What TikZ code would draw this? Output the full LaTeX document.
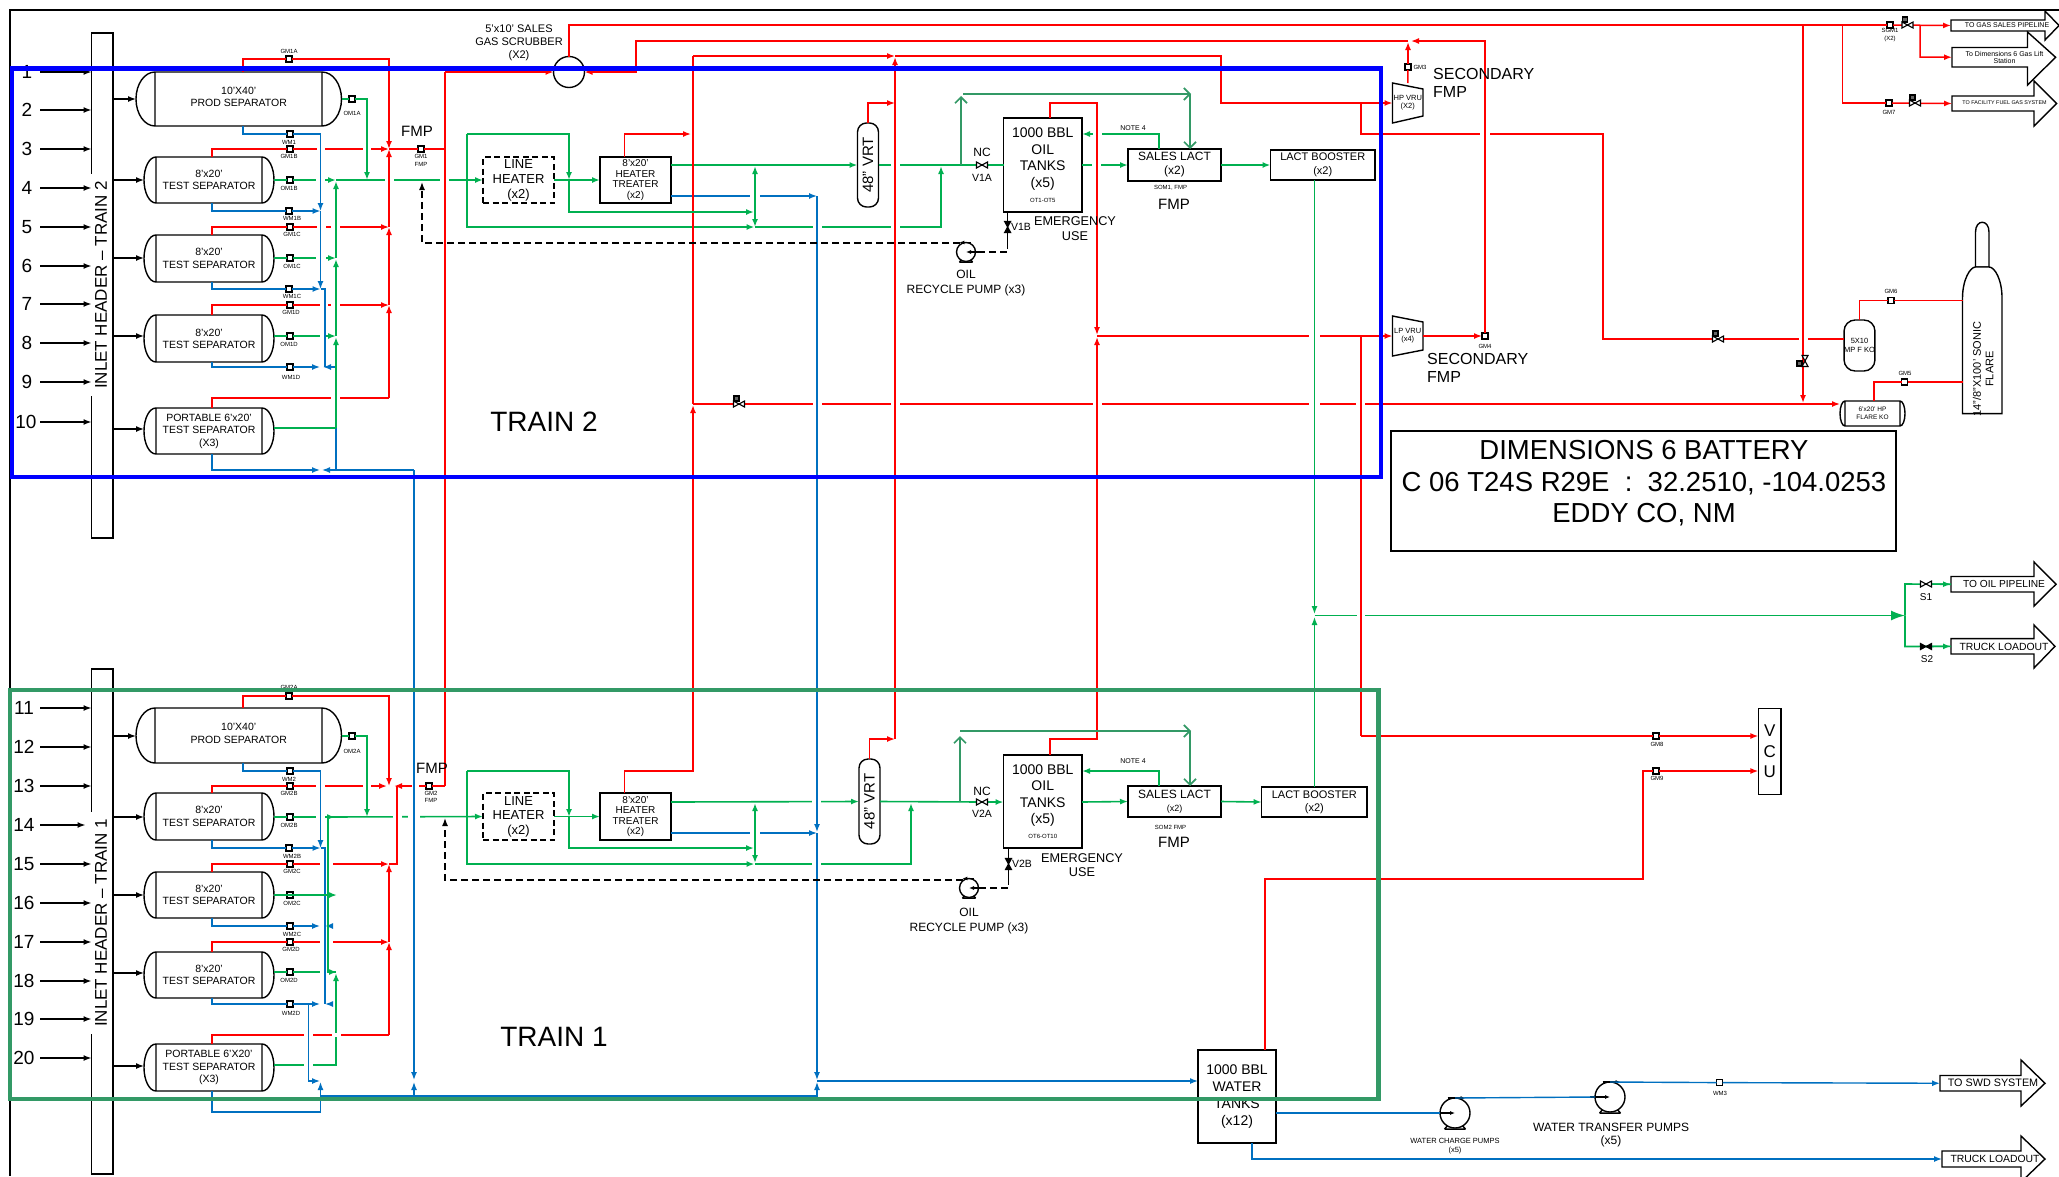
\documentclass[tikz,border=0pt]{standalone}
\usepackage{fontspec}
\setmainfont{Liberation Sans}
\usetikzlibrary{arrows.meta,calc}
\definecolor{gasred}{HTML}{FF0000}
\definecolor{oilgrn}{HTML}{00B050}
\definecolor{watblu}{HTML}{0070C0}
\definecolor{seagrn}{HTML}{339966}
\definecolor{fblue}{HTML}{0000FF}
\tikzset{
 gasl/.style={draw=gasred,line width=1.5pt},
 oill/.style={draw=oilgrn,line width=1.6pt},
 watl/.style={draw=watblu,line width=1.4pt},
 sgl/.style={draw=seagrn,line width=1.7pt},
 recl/.style={draw=black,line width=1.4pt,dash pattern=on 7pt off 4pt},
 blkl/.style={draw=black,line width=1.4pt},
 arw/.style={-{Latex[length=8pt,width=6pt]}},
 arwb/.style={-{Latex[length=14pt,width=10pt]}},
 darw/.style={{Latex[length=8pt,width=6pt]}-{Latex[length=8pt,width=6pt]}},
 obarb/.style={-{Straight Barb[length=6pt,width=12pt]}},
 eqp/.style={draw=black,line width=1.4pt,fill=white},
 eqptxt/.style={inner sep=0pt,outer sep=0pt,align=center},
 lbl/.style={inner sep=0pt,align=center},
 dashbox/.style={dash pattern=on 6pt off 3.5pt},
 meter/.style={draw=black,line width=1.2pt,fill=white,minimum width=6pt,minimum height=6pt,inner sep=0pt,outer sep=0pt},
}
\newcommand\F[2]{\fontsize{#1pt}{#2pt}\selectfont}
\newcounter{tn}
\newcommand\lb[5][]{\stepcounter{tn}\node[lbl,font={#4},#1] (t\thetn) at (#2,#3) {#5};}
\newcommand\mt[3]{\node[meter] (#1) at (#2,#3) {};}
\newcommand\gapx[3]{\draw[white,line width=3.6pt] (#1,#3) -- (#2,#3);}
\newcommand\vessel[9]{%
 \pgfmathsetmacro\vcx{(#2+#4)/2}\pgfmathsetmacro\vcy{(#3+#5)/2}%
 \pgfmathsetmacro\vw{#4-#2}\pgfmathsetmacro\vh{#5-#3}%
 \pgfmathsetmacro\vrl{#6-#2}\pgfmathsetmacro\vrr{#4-#7}\pgfmathsetmacro\vry{(#5-#3)/2}%
 \draw[eqp] (#6,#3) arc[start angle=90,end angle=270,x radius=\vrl pt,y radius=\vry pt] -- (#7,#5) arc[start angle=-90,end angle=90,x radius=\vrr pt,y radius=\vry pt] -- cycle (#6,#3)--(#6,#5) (#7,#3)--(#7,#5);
 \node[eqptxt,minimum width=\vw pt,minimum height=\vh pt,font={#8}] (#1) at (\vcx,\vcy) {#9};}
\newcommand\bx[8][]{%
 \pgfmathsetmacro\vcx{(#3+#5)/2}\pgfmathsetmacro\vcy{(#4+#6)/2}%
 \pgfmathsetmacro\vw{#5-#3}\pgfmathsetmacro\vh{#6-#4}%
 \node[eqp,eqptxt,minimum width=\vw pt,minimum height=\vh pt,font={#7},#1] (#2) at (\vcx,\vcy) {#8};}
\newcommand\barw[8]{%
 \pgfmathsetmacro\vcy{(#5+#6)/2}%
 \draw[eqp] (#2,#5) -- (#3,#5) -- (#3,#7) -- (#4,\vcy) -- (#3,#8) -- (#3,#6) -- (#2,#6) -- cycle;
 \coordinate (#1) at (#2,\vcy);}
\newcommand\bow[4]{\begin{scope}[shift={(#1,#2)},rotate=#3]
 \draw[draw=black,line width=1.1pt,fill=#4] (-5.5,-3) -- (5.5,3) -- (5.5,-3) -- (-5.5,3) -- cycle;\end{scope}}
\newcommand\gv[3]{\begin{scope}[shift={(#1,#2)},rotate=#3]
 \draw[draw=black,line width=1.1pt,fill=white] (-5.5,-3) -- (5.5,3) -- (5.5,-3) -- (-5.5,3) -- cycle;
 \draw[draw=black,line width=1.1pt,fill=black!60] (-5,-8) rectangle (0,-3);\end{scope}}
% name x y r dir(+1 inlet right, outlet left ; -1 inlet left, outlet right)
\newcommand\pump[5]{%
 \node[draw=black,line width=1.4pt,fill=white,circle,minimum size=#4*2pt,inner sep=0pt,outer sep=0pt] (#1) at (#2,#3) {};
 \pgfmathsetmacro\pa{#4*0.7}\pgfmathsetmacro\pb{#4*1.07}\pgfmathsetmacro\pc{#4*0.5}\pgfmathsetmacro\pd{#4*0.85}\pgfmathsetmacro\pe{#5*#4*1.35}\pgfmathsetmacro\pf{#5*#4*0.5}\pgfmathsetmacro\pg{0-#5*#4*1.2}%
 \draw[blkl] ($(#1.center)+(-\pa,\pb)$) -- ($(#1.center)+(\pa,\pb)$) ($(#1.center)+(-\pc,\pd)$) -- ($(#1.center)+(-\pa,\pb)$) ($(#1.center)+(\pc,\pd)$) -- ($(#1.center)+(\pa,\pb)$);
 \draw[blkl,-{Latex[length=5pt,width=4pt]}] ($(#1.center)+(\pe,0)$) -- (#1.center);
 \draw[blkl,-{Latex[length=5pt,width=4pt]}] ($(#1.center)+(\pf,-#4)$) -- ++(\pg,0);}
\begin{document}
\begin{tikzpicture}[x=1pt,y=-1pt]
\useasboundingbox (0,0) rectangle (2059,1176);
\fill[white] (0,0) rectangle (2059,1176);
% outer frame
\coordinate (frA) at (2059,10); \coordinate (frB) at (10,10); \coordinate (frC) at (10,1176);
\draw[blkl,line width=1.6pt] (frA) -- (frB) -- (frC);
% ---- inlet headers
\bx{hd2}{91.5}{33}{113}{538}{\F{6}{7}}{}
\bx{hd1}{91.5}{669}{113}{1174}{\F{6}{7}}{}
\node[lbl,rotate=90,fill=white,font=\F{17}{19},minimum height=21pt,minimum width=222pt] (hd2t) at (101,285) {INLET HEADER – TRAIN 2};
\node[lbl,rotate=90,fill=white,font=\F{17}{19},minimum height=21pt,minimum width=222pt] (hd1t) at (101,923) {INLET HEADER – TRAIN 1};
% ---- vessels T2
\vessel{p2}{136}{72}{341.5}{126}{155}{322}{\F{10.5}{12}}{10'X40'\\PROD SEPARATOR\\[-7pt]\mbox{}}
\vessel{s2b}{144}{157}{274}{203}{156}{262}{\F{10.5}{12.5}}{8'x20'\\TEST SEPARATOR}
\vessel{s2c}{144}{235}{274}{282}{156}{262}{\F{10.5}{12.5}}{8'x20'\\TEST SEPARATOR}
\vessel{s2d}{144}{315}{274}{362}{156}{262}{\F{10.5}{12}}{8'x20'\\TEST SEPARATOR}
\vessel{s2p}{144}{408}{274}{454}{156}{262}{\F{10.5}{12.5}}{PORTABLE 6'x20'\\TEST SEPARATOR\\(X3)}
% ---- vessels T1
\vessel{p1}{136}{708}{341.5}{763}{155}{322}{\F{10.5}{13}}{10'X40'\\PROD SEPARATOR\\[-9pt]\mbox{}}
\vessel{s1b}{144}{793}{274}{840}{156}{262}{\F{10.5}{12.5}}{8'x20'\\TEST SEPARATOR}
\vessel{s1c}{144}{872}{274}{918}{156}{262}{\F{10.5}{12.5}}{8'x20'\\TEST SEPARATOR}
\vessel{s1d}{144}{952}{274}{998}{156}{262}{\F{10.5}{12}}{8'x20'\\TEST SEPARATOR}
\vessel{s1p}{144}{1044}{274}{1091}{156}{262}{\F{10.5}{12.8}}{PORTABLE 6'X20'\\TEST SEPARATOR\\(X3)}
% flare KO
\vessel{fko}{1840}{401}{1905}{426}{1845}{1900}{\F{6.5}{7.5}}{6'x20' HP\\FLARE KO}
% equipment boxes
\bx[dashbox]{lh2}{483}{157}{554}{203}{\F{13}{15}}{LINE\\HEATER\\(x2)}
\bx[dashbox]{lh1}{483}{793}{554}{840}{\F{13}{14.5}}{LINE\\HEATER\\(x2)}
\bx{tr2}{600}{157}{671}{203}{\F{10}{10.6}}{8'x20'\\HEATER\\TREATER\\(x2)}
\bx{tr1}{600}{793}{671}{840}{\F{10}{10.6}}{8'x20'\\HEATER\\TREATER\\(x2)}
\bx{ot2}{1003.5}{118}{1082}{212}{\F{14}{16.6}}{1000 BBL\\OIL\\TANKS\\(x5)\\[-2pt]{\F{6}{8}OT1-OT5}}
\bx{ot1}{1003.5}{755}{1082}{848}{\F{14}{16.6}}{1000 BBL\\OIL\\TANKS\\(x5)\\[-2pt]{\F{6}{8}OT6-OT10}}
\bx{sl2}{1128}{149}{1221}{181}{\F{12}{14}}{SALES LACT\\(x2)}
\bx{sl1}{1128}{786}{1221}{817}{\F{12}{12.5}}{SALES LACT\\{\F{9}{10}(x2)}}
\bx{lb2}{1270.5}{150}{1375}{180}{\F{11}{13.5}}{LACT BOOSTER\\(x2)}
\bx{lb1}{1261.6}{787}{1367}{817}{\F{11}{13}}{LACT BOOSTER\\(x2)}
\bx{wt}{1198}{1050}{1276}{1143}{\F{14}{16.8}}{1000 BBL\\WATER\\TANKS\\(x12)}
\bx{vcu}{1758.4}{708.5}{1781}{794.6}{\F{17}{20.5}}{V\\C\\U}
% VRTs
\node[eqp,eqptxt,rotate=90,rounded corners=9pt,minimum width=84pt,minimum height=21pt,font=\F{15}{16}] (vr2) at (868,165) {48" VRT};
\node[eqp,eqptxt,rotate=90,rounded corners=9pt,minimum width=85pt,minimum height=21pt,font=\F{15}{16}] (vr1) at (869.5,801.5) {48" VRT};
% scrubber
\node[draw=black,line width=1.4pt,fill=white,circle,minimum size=31pt,inner sep=0pt,outer sep=0pt] (scr) at (569,72) {};
% VRUs
\draw[eqp] (1392.5,83) -- (1423,89) -- (1423,116) -- (1392.5,123) -- cycle;
\draw[eqp] (1392.5,316) -- (1423,322) -- (1423,350) -- (1392.5,356) -- cycle;
\node[eqptxt,minimum width=30.5pt,minimum height=40pt,font=\F{7.5}{8}] (hpv) at (1407.75,103) {HP VRU\\(X2)};
\node[eqptxt,minimum width=30.5pt,minimum height=40pt,font=\F{7.5}{8}] (lpv) at (1407.75,336) {LP VRU\\(x4)};
% MP KO
\node[eqp,eqptxt,rounded corners=11pt,minimum width=29pt,minimum height=51pt,font=\F{7.5}{8.6}] (mko) at (1859.5,345.5) {5X10\\MP F KO};
% flare
\draw[eqp] (1975.5,267) -- (1975.5,232) .. controls (1975.5,219) and (1989,219) .. (1989,232) -- (1989,267) -- cycle;
\draw[eqp] (1962.5,413.6) -- (1962.5,298) .. controls (1962.5,280) and (1970,267) .. (1975.5,267) -- (1989,267) .. controls (1995,267) and (2002,280) .. (2002,298) -- (2002,413.6) -- cycle;
\node[eqptxt,minimum width=39.5pt,minimum height=115pt] (flr) at (1982.25,356) {};
\node[lbl,rotate=90,font=\F{11}{12.5}] (flrt) at (1983,369) {14"/8"X100' SONIC\\FLARE};
% block arrows
\barw{tg}{1951}{2045}{2059}{20}{31}{11}{40}
\barw{tl}{1952}{2027.5}{2055.6}{47.5}{67}{32}{85}
\barw{tf}{1952}{2034}{2056.5}{96}{111}{81}{126}
\barw{to}{1951}{2034}{2056}{576.5}{592}{562}{606}
\barw{tt}{1951}{2034}{2055}{638.6}{654}{625}{668}
\barw{ts}{1940}{2021}{2045}{1075.5}{1091}{1060}{1106}
\barw{tr}{1942}{2021}{2045}{1151}{1167}{1136}{1182}
\lb{2007}{25}{\F{7}{8}}{TO GAS SALES PIPELINE}
\lb{2004.5}{57.5}{\F{7}{7.8}}{To Dimensions 6 Gas Lift\\Station}
\lb{2004.5}{103}{\F{5.4}{6}}{TO FACILITY FUEL GAS SYSTEM}
\lb{2004}{584}{\F{10.2}{12}}{TO OIL PIPELINE}
\lb{2004}{646.5}{\F{10.4}{12}}{TRUCK LOADOUT}
\lb{1993}{1083}{\F{10.8}{12}}{TO SWD SYSTEM}
\lb{1995}{1159}{\F{10.4}{12}}{TRUCK LOADOUT}
% title box
\bx{title}{1391}{431}{1896}{551}{\F{27.5}{31.5}}{}
\lb{1644}{483.5}{\F{27.5}{31.5}}{DIMENSIONS 6 BATTERY\\C 06 T24S R29E\ \ :\ \ 32.2510, -104.0253\\EDDY CO, NM}
% ---- meters
\mt{mg1a}{289}{59}\mt{mg1b}{290}{149}\mt{mg1c}{290}{227}\mt{mg1d}{290}{305}\mt{mg1f}{421}{149}
\mt{mg2a}{289}{696}\mt{mg2b}{290}{786}\mt{mg2c}{290}{864}\mt{mg2d}{290}{942}\mt{mg2f}{429}{786}
\mt{mo1a}{352}{99}\mt{mo1b}{290}{180}\mt{mo1c}{290}{258}\mt{mo1d}{290}{336}
\mt{mo2a}{352}{736}\mt{mo2b}{290}{817}\mt{mo2c}{290}{895}\mt{mo2d}{290}{972}
\mt{mw1}{290}{134}\mt{mw1b}{289}{211}\mt{mw1c}{289}{289}\mt{mw1d}{290}{367}
\mt{mw2}{290}{771}\mt{mw2b}{289}{848}\mt{mw2c}{290}{926}\mt{mw2d}{290}{1004}
\mt{msg}{1890}{25}\mt{mg3}{1408}{67}\mt{mg4}{1485}{336}\mt{mg5}{1904.5}{382}\mt{mg6}{1891}{300.7}\mt{mg7}{1889}{103}
\mt{mg8}{1656}{736}\mt{mg9}{1656}{771}\mt{mw3}{1719.5}{1082.6}
% pumps
\pump{pu2}{966}{252}{9.5}{1}
\pump{pu1}{969}{888}{9.5}{1}
\pump{pw1}{1455}{1113}{15}{-1}
\pump{pw2}{1610}{1097}{15}{-1}
% junction coordinates
\coordinate (j1) at (389,149);\coordinate (j2) at (389,227);\coordinate (j3) at (389,305);\coordinate (j4) at (389,398);
\coordinate (k1) at (389,786);\coordinate (k2) at (389,864);\coordinate (k3) at (389,942);\coordinate (k4) at (389,1035);
\coordinate (g1) at (336,180);\coordinate (g2) at (336,258);\coordinate (g3) at (336,336);\coordinate (g4) at (336,428);
\coordinate (n1) at (328,817);\coordinate (n2) at (328,895);\coordinate (n3) at (336,972);\coordinate (n4) at (336,1065);
\coordinate (ca) at (445,72);\coordinate (cb) at (445,149);\coordinate (cc) at (445,786);
\coordinate (da) at (693,56);\coordinate (db) at (693,404);\coordinate (ea) at (895,56);
\coordinate (fa) at (1097,336);\coordinate (ha) at (1361,103);\coordinate (hb) at (1361,336);
\coordinate (ga) at (1314.5,615.5);\coordinate (gb) at (1905,615.5);
\coordinate (ja) at (1408,41);\coordinate (jb) at (1803,25);\coordinate (jc) at (1842.5,25);\coordinate (jd) at (1920,25);
\coordinate (la) at (467,180);\coordinate (lb) at (569,180);\coordinate (lc) at (754.5,227);\coordinate (ld) at (754.5,165);
\coordinate (ma) at (467,817);\coordinate (mb) at (569,817);\coordinate (mc) at (754.5,864);\coordinate (md) at (754.5,802);
\coordinate (wa) at (320.5,289);\coordinate (wb) at (320.5,211);\coordinate (wc) at (336,367);\coordinate (wd) at (414,470);
\coordinate (we) at (817,196);\coordinate (wf) at (817,833);\coordinate (wg) at (817,1081);\coordinate (wh) at (320.5,848);
\coordinate (wi) at (325,1004);\coordinate (wj) at (320.5,1096);\coordinate (wk) at (414,1096);\coordinate (wl) at (817,1096);
% ===== layer A : lines that jump over others
\draw[gasl,arw] (mg1b) -- (j1);
\draw[gasl,arw] (mg1c) -- (j2);
\draw[gasl,arw] (mg1d) -- (j3);
\draw[gasl] (s2b.north -| 212,0) |- (mg1b);
\draw[gasl] (s2c.north -| 212,0) |- (mg1c);
\draw[gasl] (s2d.north -| 212,0) |- (mg1d);
\draw[gasl] (s2p.north -| 212,0) |- (j4);
\draw[gasl,arw] (mg2b) -- ([xshift=-2pt]k1);
\draw[gasl,arw] (mg2f) -- ([xshift=5pt]k1);
\draw[gasl,arw] (mg2c) -- (k2);
\draw[gasl,arw] (mg2d) -- (k3);
\draw[gasl] (s1b.north -| 212,0) |- (mg2b);
\draw[gasl] (s1c.north -| 212,0) |- (mg2c);
\draw[gasl] (s1d.north -| 212,0) |- (mg2d);
\draw[gasl] (s1p.north -| 212,0) |- (k4);
\draw[oill,arw] (g1) -- (lh2.west);
\draw[oill,arw] (n1) -- (lh1.west);
\draw[oill] (s2b.east |- mo1b) -- (mo1b);
\draw[oill] (s2c.east |- mo1c) -- (mo1c);
\draw[oill] (s2d.east |- mo1d) -- (mo1d);
\draw[oill] (s1b.east |- mo2b) -- (mo2b);
\draw[oill] (s1c.east |- mo2c) -- (mo2c);
\draw[oill] (s1d.east |- mo2d) -- (mo2d);
\draw[oill,arw] (mo1b) -- (g1);
\draw[oill,arw] (mo1c) -- (g2);
\draw[oill,arw] (mo1d) -- (g3);
\draw[oill,arw] (mo2b) -- (335,817);
\draw[oill,arw] (mo2d) -- (337,972);
\draw[oill,arw] (s1p.east |- n4) -- (n4) -- (336,973);
\draw[oill,arw] (467,134) -- (467,227) -- (lc);
\draw[oill,arw] (lc) -- (941,227) -- (941,166);
\draw[oill,arw] (467,771) -- (467,864) -- (mc);
\draw[oill,arw] (mc) -- (911,864) -- (911,803);
\draw[oill,arw] (tr2.east |- ld) -- (vr2.north);
\draw[oill] (vr2.south) -- (ot2.west |- vr2.south);
\draw[oill,arw] (tr1.east |- md) -- (vr1.north);
\draw[watl,arw] (tr2.east |- we) -- (we);
\draw[watl,arw] (tr1.east |- wf) -- (wf);
\draw[oill,arw] (ot2.east |- ld) -- (sl2.west);
\draw[oill,arw] (sl2.north -| 1159,0) |- (ot2.east |- 0,134);
\draw[gasl,arw] (db) -- (fko.west |- db);
\draw[gasl,arw] (fa) -- (hb) -- (lpv.west);
\draw[gasl] (ha) -- (1361,134) -- (1603,134) -- (1603,339) -- (mko.west |- 0,339);
\draw[oill,arwb] (ga) -- (gb);
% jump gaps
\gapx{317}{325}{149}\gapx{363}{371}{149}
\gapx{317}{326}{227}\gapx{331}{340}{227}
\gapx{320}{328}{305}\gapx{331}{340}{305}
\gapx{331}{340}{398}
\gapx{385}{394}{180}\gapx{440}{449}{180}
\gapx{316}{325}{180}\gapx{316}{326}{258}\gapx{320}{326}{336}
\gapx{813}{822}{227}\gapx{891}{900}{227}
\gapx{891}{900}{165}\gapx{750}{760}{196}\gapx{1092}{1101}{165}\gapx{1093}{1102}{134}
\gapx{813}{822}{404}\gapx{891}{900}{404}\gapx{1093}{1102}{404}\gapx{1309}{1320}{404}\gapx{1356}{1365}{404}
\gapx{1309}{1320}{336}\gapx{1480}{1490}{134}\gapx{1799}{1808}{339}\gapx{1357}{1365}{615.5}
\gapx{316}{325}{786}\gapx{363}{371}{786}\gapx{412}{419}{786}
\gapx{320}{333}{864}\gapx{320}{333}{942}
\gapx{304}{313}{1035}\gapx{332}{341}{1035}
\gapx{393}{402}{817}\gapx{408}{420}{817}\gapx{316}{325}{817}
\gapx{304}{313}{1065}\gapx{320}{328}{972}
\gapx{812}{821}{864}\gapx{812}{821}{802}\gapx{750}{760}{833}
% ===== layer B : red
\draw[gasl] (p2.north -| 243,0) |- (mg1a);
\draw[gasl,arw] (mg1a) -| (j1);
\draw[gasl,arw] (j4) -- (j3);\draw[gasl,arw] (j3) -- (j2);\draw[gasl,arw] (j2) -- (j1);
\draw[gasl] (j1) -- (mg1f);\draw[gasl] (mg1f) -- (cb);
\draw[gasl] (ca) -- (cc);
\draw[gasl] (cc) -- (mg2f);
\draw[gasl,arw] (ca) -- (scr.west);
\draw[gasl] (scr.north) |- (msg);
\draw[gasl,arw] (msg) -- (tg);
\draw[gasl,arw] (ja) -- (636,41) -- (636,72) -- (scr.east);
\draw[gasl,arw] (mg4) -- (1485,41) -- (1411,41);
\draw[gasl] (hpv.north) -- (mg3);
\draw[gasl,arw] (mg3) -- (1408,42);
\draw[gasl,arw] (lpv.east) -- (mg4);
\draw[gasl,arw] (da) -- (ea);
\draw[gasl] (db) -- (da);
\draw[gasl,arw] (tr1.north -| 624.5,0) -- (624.5,771) -- (693,771) -- (693,405);
\draw[gasl,arw] (tr2.north -| 624.5,0) -- (624.5,134) -- (691,134);
\draw[gasl,arw] (vr1.east) -- (869.5,739) -- (895,739);
\draw[gasl,arw] (895,739) -- (895,57);
\draw[gasl,arw] (vr2.east) -- (868,103) -- (895,103);
\draw[gasl,arw] (ea) -- (1221,56) -- (1221,103) -- (hpv.west);
\draw[gasl,arw] (ot2.north -| 1050,0) -- (1050,103) -- (1097,103) -- (1097,335);
\draw[gasl,arw] (ot1.north -| 1050,0) -- (1050,739) -- (1097,739) -- (1097,337);
\draw[gasl] (hb) -- (1361,736);
\draw[gasl] (1361,736) -- (mg8);
\draw[gasl,arw] (mg8) -- (vcu.west |- mg8);
\draw[gasl,line width=1.2pt] (wt.north -| 1265,0) -- (1265,879) -- (1643,879) -- (1643,771) -- (mg9);
\draw[gasl,arw] (mg9) -- (vcu.west |- mg9);
\draw[gasl,arw] (jd) -- (1920,57) -- (tl);
\draw[gasl] (jc) |- (mg7);
\draw[gasl,arw] (mg7) -- (tf);
\draw[gasl,arw] (jb) -- (1803,403);
\draw[gasl] (mko.north) -- (mko.north |- mg6) -- (mg6);
\draw[gasl] (mg6) -- (flr.west |- mg6);
\draw[gasl] (fko.north -| 1874,0) |- (mg5);
\draw[gasl] (mg5) -- (flr.west |- mg5);
\draw[gasl] (p1.north -| 243,0) |- (mg2a);
\draw[gasl,arw] (mg2a) -| (k1);
\draw[gasl] (k2) -- (397,864) -- (397,786);
\draw[gasl,arw] (k4) -- (k3);\draw[gasl,arw] (k3) -- (k2);
% blue
\draw[watl] (p2.south -| 243,0) |- (mw1);
\draw[watl,arw] (mw1) -| (wb);
\draw[watl] (s2b.south -| 212,0) |- (mw1b);
\draw[watl,arw] (mw1b) -- (wb);
\draw[watl,arw] (wb) -- (wa);
\draw[watl] (s2c.south -| 212,0) |- (mw1c);
\draw[watl,arw] (mw1c) -- (wa);
\draw[watl] (wa) -- (325,289) -- (325,367);
\draw[watl] (s2d.south -| 212,0) |- (mw1d);
\draw[watl,arw] (mw1d) -- (320,367);
\draw[watl,arw] (wc) -- (323,367);
\draw[watl] (wc) -- (336,470) -- (wd);
\draw[watl,arw] (s2p.south -| 212,0) |- (320,470);
\draw[watl,arw] (wd) -- (322,470);
\draw[watl,arw] (wd) -- (414,1080);
\draw[watl,arw] (wk) -- (414,1082);
\draw[watl,arw] (wj) -- (wl) -- (817,1082);
\draw[watl,arw] (we) -- (817,832);
\draw[watl,arw] (wf) -- (817,1080);
\draw[watl,arw] (wg) -- (wt.west |- wg);
\draw[watl,arw] (s1p.south -| 212,0) -- (212,1112) -- (320.5,1112) -- (320.5,1082);
\draw[watl] (p1.south -| 243,0) |- (mw2);
\draw[watl,arw] (mw2) -| (wh);
\draw[watl] (s1b.south -| 212,0) |- (mw2b);
\draw[watl,arw] (mw2b) -- (wh);
\draw[watl] (wh) -- (325,848) -- (wi);
\draw[watl] (s1c.south -| 212,0) |- (mw2c);
\draw[watl,arw] (mw2c) -- (320,926);
\draw[watl,arw] (331,926) -- (325,926);
\draw[watl] (s1d.south -| 212,0) |- (mw2d);
\draw[watl,arw] (mw2d) -- (320,1004);
\draw[watl,arw] (331,1004) -- (325,1004);
\draw[watl,arw] (308.5,1004) -- (308.5,1081) -- (320,1081);
\draw[watl] (wt.east |- pw1) -- (pw1.west);
\draw[watl] (pw1.north) -- (pw2.west);
\draw[watl] (pw2.north) -- (mw3);
\draw[watl,arw] (mw3) -- (ts);
\draw[watl,arw] (wt.south -| 1252,0) |- (tr);
% green
\draw[oill,arw] (g4) -- (336,337);\draw[oill,arw] (g3) -- (336,259);\draw[oill,arw] (g2) -- (336,181);
\draw[oill] (s2p.east |- g4) -- (g4);
\draw[oill] (p2.east |- mo1a) -- (mo1a);
\draw[oill,arw] (mo1a) -| (367,180);
\draw[oill,arw] (467,134) -| (lb);
\draw[oill,arw] (lb) -- (569,212) -- (754,212);
\draw[oill,arw] (lh2.east) -- (tr2.west);
\draw[oill,darw] (755,166) -- (755,227);
\draw[sgl,obarb] (961,165) -- (961,96);
\draw[sgl,obarb] (963,94) -- (1191,94);
\draw[sgl,obarb] (1190,94) -- (sl2.north -| 1190,0);
\draw[oill,arw] (sl2.east) -- (lb2.west);
\draw[oill,line width=1.3pt,arw] (lb2.south -| ga) -- (1314.5,614);
\draw[oill,line width=1.3pt,arw] (lb1.north -| ga) -- (1314.5,617);
\draw[oill] (gb) -- (1905,584) -- (to);
\draw[oill,arw] (1926,584) -- (to);
\draw[oill] (gb) -- (1905,646.5) -- (tt);
\draw[oill,arw] (1926,646.5) -- (tt);
\draw[oill] (n1) -- (328,972) -- (n3);
\draw[oill,arw] (s1c.east |- n2) -- (337,895);
\draw[oill] (p1.east |- mo2a) -- (mo2a);
\draw[oill,arw] (mo2a) -| (367,817);
\draw[oill,arw] (467,771) -| (mb);
\draw[oill,arw] (mb) -- (569,848) -- (754,848);
\draw[oill,arw] (lh1.east) -- (tr1.west);
\draw[oill,darw] (755,803) -- (755,863);
\draw[oill] (vr1.south) -- (982,802);
\draw[oill,arw] (982,802) -- (ot1.west |- 0,802);
\draw[sgl,line width=2.4pt] (960,802) -- (960,742);
\draw[sgl,obarb] (960,745) -- (960,736);
\draw[sgl,obarb] (960,731) -- (1191,731);
\draw[sgl,obarb] (1190,731) -- (sl1.north -| 1190,0);
\draw[oill,arw] (ot1.east |- 0,802) -- (sl1.west);
\draw[oill,arw] (sl1.north -| 1159,0) |- (ot1.east |- 0,771);
\draw[oill,arw] (sl1.east) -- (lb1.west);
% black recycle
\draw[blkl] (ot2.south -| 1007.6,0) -- (1007.6,242);
\draw[recl] (1007.6,242) -- (1007.6,252) -- (pu2.east);
\draw[recl,arw] (960,243) -- (422,243) -- (422,182);
\draw[blkl] (ot1.south -| 1008.5,0) -- (1008.5,878);
\draw[recl] (1008.5,878) -- (1008.5,888) -- (pu1.east);
\draw[recl,arw] (963,880) -- (445,880) -- (445,818);
% inlet arrows
\foreach \yy [count=\i] in {72,110,149,188,227,266,304,343,382,422}{\coordinate (ia\i) at (40,\yy);\draw[blkl,arw] (ia\i) -- (hd2.west |- ia\i);}
\foreach \yy [count=\i] in {708,747,786,825,864,903,942,981,1019,1058}{\coordinate (ib\i) at (40,\yy);\ifnum\i=4\relax\draw[blkl,arw,shorten >=6pt] (ib\i) -- (hd1.west |- ib\i);\else\draw[blkl,arw] (ib\i) -- (hd1.west |- ib\i);\fi}
\draw[blkl,arw] (hd2.east |- 0,99) -- (p2.west |- 0,99);
\draw[blkl,arw] (hd2.east |- 0,180) -- (s2b.west |- 0,180);
\draw[blkl,arw] (hd2.east |- 0,258) -- (s2c.west |- 0,258);
\draw[blkl,arw] (hd2.east |- 0,336) -- (s2d.west |- 0,336);
\draw[blkl,arw] (hd2.east |- 0,429) -- (s2p.west |- 0,429);
\draw[blkl,arw] (hd1.east |- 0,736) -- (p1.west |- 0,736);
\draw[blkl,arw] (hd1.east |- 0,817) -- (s1b.west |- 0,817);
\draw[blkl,arw] (hd1.east |- 0,895) -- (s1c.west |- 0,895);
\draw[blkl,arw] (hd1.east |- 0,973) -- (s1d.west |- 0,973);
\draw[blkl,arw] (hd1.east |- 0,1066) -- (s1p.west |- 0,1066);
% valves
\gv{1907.5}{25}{0}\gv{1915}{103}{0}\gv{739}{404}{0}\gv{1718}{339}{0}\gv{1805}{361}{90}
\bow{982}{165}{0}{white}\bow{982}{802}{0}{white}\bow{1926}{584}{0}{white}\bow{1926}{646.5}{0}{black}
\bow{1007.6}{227}{90}{black}\bow{1008.5}{864}{90}{black}
% ---- numbers
\foreach \nn/\yy in {1/72,2/110,3/149,4/188,5/227,6/266,7/304,8/343,9/382}{\stepcounter{tn}\node[lbl,font=\F{19}{21}] (t\thetn) at (27,\yy) {\nn};}
\lb{26}{422}{\F{19}{21}}{10}
\foreach \nn/\yy in {11/708,12/747,13/786,14/825,15/864,16/903,17/942,18/981,19/1019,20/1058}{\stepcounter{tn}\node[lbl,font=\F{19}{21}] (t\thetn) at (24,\yy) {\nn};}
% ---- labels small
\lb{289}{51}{\F{6}{7}}{GM1A}\lb{289}{142}{\F{6}{7}}{WM1}\lb{289}{156}{\F{6}{7}}{GM1B}
\lb{421}{160}{\F{6}{8}}{GM1\\FMP}
\lb{352}{113}{\F{6}{7}}{OM1A}\lb{289}{188}{\F{6}{7}}{OM1B}\lb{292}{218}{\F{6}{7}}{WM1B}\lb{292}{234}{\F{6}{7}}{GM1C}
\lb{292}{266}{\F{6}{7}}{OM1C}\lb{292}{296}{\F{6}{7}}{WM1C}\lb{291}{312}{\F{6}{7}}{GM1D}\lb{289}{344}{\F{6}{7}}{OM1D}\lb{291}{377}{\F{6}{7}}{WM1D}
\lb{289}{687}{\F{6}{7}}{GM2A}\lb{289}{779}{\F{6}{7}}{WM2}\lb{289}{793}{\F{6}{7}}{GM2B}
\lb{431}{797}{\F{6}{7}}{GM2\\FMP}
\lb{352}{751}{\F{6}{7}}{OM2A}\lb{289}{825}{\F{6}{7}}{OM2B}\lb{292}{856}{\F{6}{7}}{WM2B}\lb{292}{871}{\F{6}{7}}{GM2C}
\lb{292}{903}{\F{6}{7}}{OM2C}\lb{292}{934}{\F{6}{7}}{WM2C}\lb{291}{949}{\F{6}{7}}{GM2D}\lb{289}{980}{\F{6}{7}}{OM2D}\lb{291}{1013}{\F{6}{7}}{WM2D}
\lb{1890}{35}{\F{6}{7.2}}{SGM1\\(X2)}\lb{1889}{112.5}{\F{6}{7}}{GM7}\lb{1420}{67}{\F{6}{7}}{GM3}\lb{1485}{346}{\F{6}{7}}{GM4}
\lb{1891}{291}{\F{6}{7}}{GM6}\lb{1905}{373.5}{\F{6}{7}}{GM5}\lb{1657}{744}{\F{6}{7}}{GM8}\lb{1657}{778.5}{\F{6}{7}}{GM9}\lb{1720}{1093.6}{\F{6}{7}}{WM3}
\lb{1133}{128}{\F{7}{8}}{NOTE 4}\lb{1133}{761}{\F{7}{8}}{NOTE 4}
\lb{1170.5}{188}{\F{6}{7}}{SOM1, FMP}\lb{1170.5}{827}{\F{6}{7}}{SOM2 FMP}
% ---- labels big
\lb{519}{43}{\F{11}{13}}{5'x10' SALES\\GAS SCRUBBER\\(X2)}
\lb{417}{131}{\F{15}{17}}{FMP}\lb{432}{768}{\F{15}{17}}{FMP}
\lb{1174}{204}{\F{15}{17}}{FMP}\lb{1174}{842}{\F{15}{17}}{FMP}
\lb{982}{152}{\F{12}{14}}{NC}\lb{982}{178}{\F{10.5}{12}}{V1A}
\lb{982}{791}{\F{12}{14}}{NC}\lb{982}{814}{\F{10.5}{12}}{V2A}
\lb{1021}{227}{\F{10.5}{12}}{V1B}\lb{1022}{864}{\F{10.5}{12}}{V2B}
\lb{1075}{228.5}{\F{12.7}{15}}{EMERGENCY\\USE}\lb{1082}{865}{\F{12.7}{14.5}}{EMERGENCY\\USE}
\lb{966}{283.5}{\F{12}{15}}{OIL\\RECYCLE PUMP (x3)}\lb{969}{921}{\F{12}{14.5}}{OIL\\RECYCLE PUMP (x3)}
\lb{1926}{597}{\F{10}{12}}{S1}\lb{1927}{659.5}{\F{10}{12}}{S2}
\lb[anchor=west,align=left]{1433}{83}{\F{16}{18}}{SECONDARY\\FMP}
\lb[anchor=west,align=left]{1427}{368}{\F{16}{18}}{SECONDARY\\FMP}
\lb{1455}{1146}{\F{7.5}{8.5}}{WATER CHARGE PUMPS\\(x5)}
\lb{1611}{1135}{\F{12}{13}}{WATER TRANSFER PUMPS\\(x5)}
\lb{544}{422}{\F{28}{30}}{TRAIN 2}\lb{554}{1037}{\F{28}{30}}{TRAIN 1}
% ---- train frames on top
\coordinate (b1) at (12,68.5);\coordinate (b2) at (1381,477);
\coordinate (c1) at (10,690);\coordinate (c2) at (1378.6,1099);
\draw[draw=fblue,line width=4.6pt] (b1) rectangle (b2);
\draw[draw=seagrn,line width=4.6pt] (c1) rectangle (c2);
\end{tikzpicture}
\end{document}
